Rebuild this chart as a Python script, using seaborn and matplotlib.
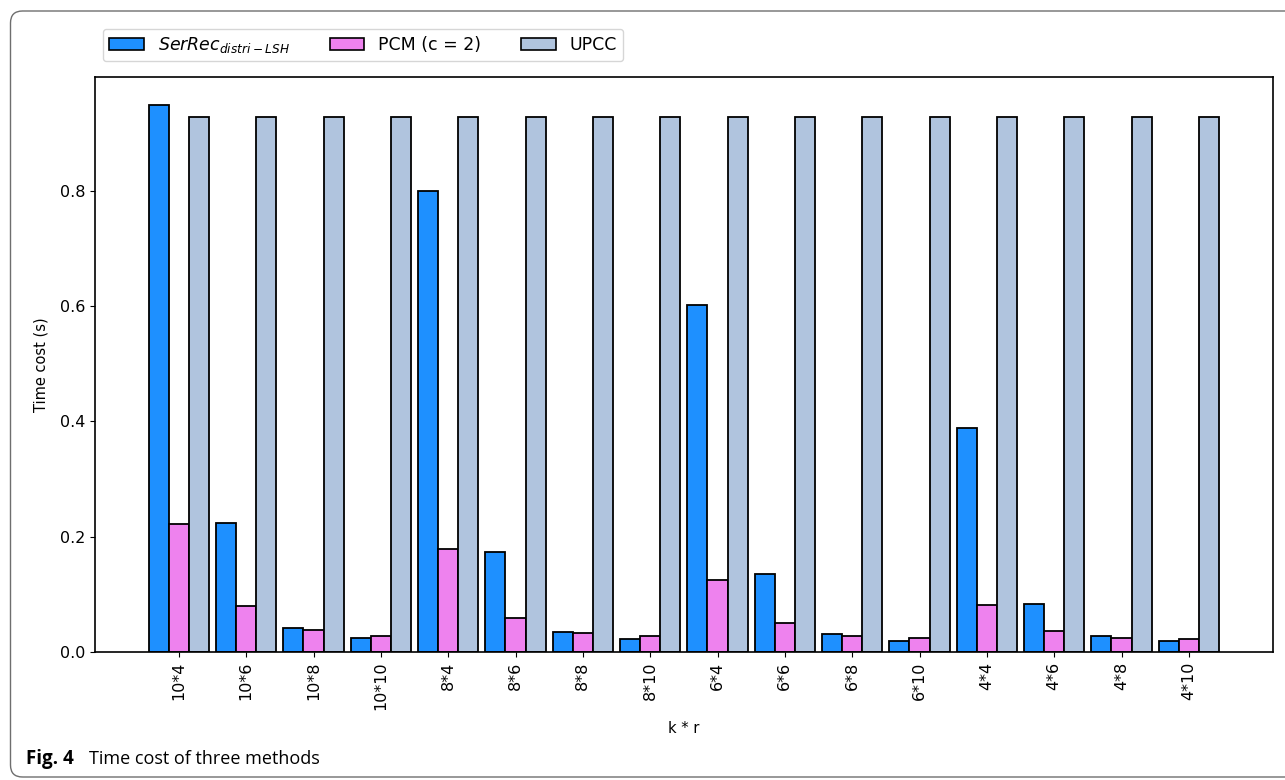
import numpy as np
import pandas as pd
import matplotlib
matplotlib.use("Agg")
import matplotlib.pyplot as plt
import seaborn as sns
from matplotlib.patches import Patch, FancyBboxPatch
from matplotlib.transforms import IdentityTransform

# k * r configurations
configs = ["10*4", "10*6", "10*8", "10*10",
           "8*4", "8*6", "8*8", "8*10",
           "6*4", "6*6", "6*8", "6*10",
           "4*4", "4*6", "4*8", "4*10"]

# time cost (s) of each method
serrec = [0.949, 0.224, 0.042, 0.023,
          0.800, 0.173, 0.035, 0.022,
          0.602, 0.135, 0.031, 0.019,
          0.388, 0.083, 0.028, 0.018]
pcm = [0.221, 0.079, 0.037, 0.028,
       0.178, 0.058, 0.032, 0.027,
       0.124, 0.050, 0.028, 0.024,
       0.081, 0.036, 0.024, 0.022]
upcc = [0.929] * 16

methods = ["SerRec", "PCM", "UPCC"]
legend_labels = [r"$SerRec_{distri-LSH}$", "PCM (c = 2)", "UPCC"]
colors = ["#1E90FF", "#EE82EE", "#B0C4DE"]

df = pd.DataFrame({
    "kr": configs * 3,
    "time": serrec + pcm + upcc,
    "method": ["SerRec"] * 16 + ["PCM"] * 16 + ["UPCC"] * 16,
})

fig = plt.figure(figsize=(12.85, 7.8), dpi=100)
ax = fig.add_axes([95 / 1285, 1 - 651.7 / 780, (1272.7 - 95) / 1285, (651.7 - 77.3) / 780])

sns.barplot(data=df, x="kr", y="time", hue="method", order=configs,
            hue_order=methods, palette=colors, width=0.9, saturation=1,
            edgecolor="black", linewidth=1.3, errorbar=None, legend=False,
            ax=ax)

ax.set_xlim(-1.245, 16.245)
ax.set_ylim(0, 0.9975)
ax.set_yticks([0.0, 0.2, 0.4, 0.6, 0.8])
ax.set_yticklabels(["0.0", "0.2", "0.4", "0.6", "0.8"])
ax.tick_params(axis="x", labelrotation=90, labelsize=11.5)
ax.tick_params(axis="y", labelsize=11.5)
ax.set_xlabel("k * r", fontsize=10.5, labelpad=8)
ax.set_ylabel("Time cost (s)", fontsize=10.5, labelpad=8)
for s in ax.spines.values():
    s.set_linewidth(1.2)

handles = [Patch(facecolor=c, edgecolor="black", linewidth=1.2) for c in colors]
fig.legend(handles, legend_labels, ncol=3, loc="upper left",
           bbox_to_anchor=(103 / 1285, 1 - 29 / 780), borderaxespad=0,
           fontsize=12.5, frameon=True, columnspacing=2.3, borderpad=0.35)

# caption
fig.text(26 / 1285, 1 - 759 / 780, "Fig. 4", fontsize=13.5, fontweight="bold",
         family="Open Sans", va="center", ha="left")
fig.text(89 / 1285, 1 - 759 / 780, "Time cost of three methods", fontsize=13,
         family="Open Sans", va="center", ha="left")

# outer frame
frame = FancyBboxPatch((10.5, 3), 1300, 766, boxstyle="round,pad=0,rounding_size=12",
                       transform=IdentityTransform(), facecolor="none",
                       edgecolor="#6e6e6e", linewidth=1.0)
fig.patches.append(frame)

fig.savefig("out.png", dpi=100)
